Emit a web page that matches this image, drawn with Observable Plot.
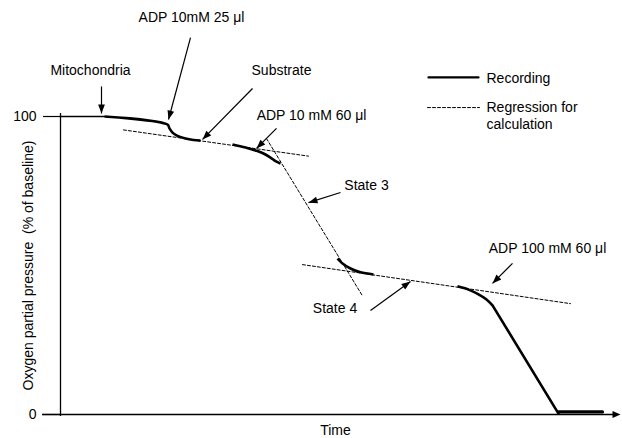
<!DOCTYPE html>
<html>
<head>
<meta charset="utf-8">
<script src="https://cdn.jsdelivr.net/npm/d3@7"></script>
<script src="https://cdn.jsdelivr.net/npm/@observablehq/plot@0.6"></script>
<style>
  html, body { margin: 0; padding: 0; background: #fff; }
</style>
</head>
<body>
<div id="chart"></div>
<script>
// ---------- Data (time in arbitrary units, O2 in % of baseline) ----------
const baselineT  = [0, 44];
const baselineO2 = [100, 100];

const rec1T  = [44, 107, 109, 112, 117, 125, 133, 140];
const rec1O2 = [100, 97.3, 96.0, 94.6, 93.5, 92.6, 92.1, 91.9];

const rec2T  = [172, 185, 195, 203, 210, 215, 220];
const rec2O2 = [90.6, 89.6, 88.6, 87.6, 86.2, 85.0, 84.2];

const rec3T  = [277, 282, 290, 300, 313];
const rec3O2 = [52.3, 50.7, 49.0, 47.7, 47.0];

const rec4T  = [397, 408, 418, 426, 432];
const rec4O2 = [43.0, 41.9, 40.3, 38.6, 36.6];

const rec5T  = [432, 498];
const rec5O2 = [36.6, 0.3];

const rec6T  = [498, 542];
const rec6O2 = [0.85, 0.85];

const reg1T = [63, 248],  reg1O2 = [95.5, 86.7];
const reg2T = [206, 302], reg2O2 = [92.6, 39.8];
const reg3T = [242, 510], reg3O2 = [50.3, 37.2];

const labels   = ["Mitochondria", "ADP 10mM 25 \u03bcl", "Substrate", "ADP 10 mM 60 \u03bcl", "State 3", "State 4", "ADP 100 mM 60 \u03bcl"];
const labelT   = [30, 131, 221, 251, 306, 274.5, 487];
const labelO2  = [115.4, 133.2, 115.4, 100.3, 76.8, 35.6, 55.7];
const arrowT1  = [41, 130, 192, 216, 280, 310, 452];
const arrowO21 = [110.1, 126.5, 109.4, 96.0, 74.5, 34.9, 50.7];
const arrowT2  = [41, 108, 142, 196, 248, 350, 432];
const arrowO22 = [101.0, 99.0, 92.3, 89.3, 71.1, 44.6, 44.0];

const legendLabels = ["Recording", "Regression for", "calculation"];
const yTicks = [0, 100];
const yLabel = "Oxygen partial pressure \u00a0(% of baseline)";
const xLabel = "Time";

// ---------- Layout ----------
const W = 622, H = 438, mL = 60, mR = 2, mT = 0, mB = 24;
const xDomain = [0, 560], yDomain = [0, 138.93];
const pxX = (W - mL - mR) / (xDomain[1] - xDomain[0]);
const pxY = (H - mT - mB) / (yDomain[1] - yDomain[0]);
const FONT = "'Liberation Sans', Arial, Helvetica, sans-serif";

// ---------- Build tables ----------
const recSegs = [[baselineT, baselineO2, "b"], [rec1T, rec1O2, "r1"], [rec2T, rec2O2, "r2"],
                 [rec3T, rec3O2, "r3"], [rec4T, rec4O2, "r4"]];
const recording = recSegs.flatMap(([ts, os, s]) => ts.map((t, i) => ({t, o2: os[i], seg: s})));
const thin = recording.filter(d => d.seg === "b");
const thick = recording.filter(d => d.seg !== "b");
const straight = rec5T.map((t, i) => ({t, o2: rec5O2[i]}));
const bottom = rec6T.map((t, i) => ({t, o2: rec6O2[i]}));
const regression = [[reg1T, reg1O2, "g1"], [reg2T, reg2O2, "g2"], [reg3T, reg3O2, "g3"]]
  .flatMap(([ts, os, s]) => ts.map((t, i) => ({t, o2: os[i], seg: s})));

const annotations = labels.map((text, i) => ({
  text, t: labelT[i], o2: labelO2[i],
  x1: arrowT1[i], y1: arrowO21[i], x2: arrowT2[i], y2: arrowO22[i]
}));

// arrowhead glyph: tip at origin, pointing up
const headSymbol = (L, w) => ({
  draw(ctx) { ctx.moveTo(0, 0); ctx.lineTo(-w, L); ctx.lineTo(w, L); ctx.closePath(); }
});
const angleOf = d => Math.atan2((d.x2 - d.x1) * pxX, (d.y2 - d.y1) * pxY) * 180 / Math.PI;

// legend rows positioned in data space
const legendT1 = 368, legendT2 = 418, legendTextT = 426;
const legendSolid = [{t: legendT1, o2: 113.1}, {t: legendT2, o2: 113.1}];
const legendDash = [{t: legendT1 - 1, o2: 103.0}, {t: legendT2 + 1, o2: 103.0}];
const legendText = [
  {text: legendLabels[0], t: legendTextT, o2: 112.8},
  {text: legendLabels[1], t: legendTextT, o2: 103.0},
  {text: legendLabels[2], t: legendTextT, o2: 97.3}
];

const chart = Plot.plot({
  width: W, height: H,
  marginLeft: mL, marginRight: mR, marginTop: mT, marginBottom: mB,
  style: {fontFamily: FONT, fontSize: "14px", background: "white", color: "black", overflow: "visible"},
  x: {domain: xDomain, axis: null},
  y: {domain: yDomain, axis: null},
  marks: [
    // axes
    Plot.axisY({ticks: yTicks, tickSize: 17, tickPadding: 7, label: null, fontSize: 14, strokeWidth: 1.2}),
    Plot.ruleX([0], {y1: -0.7, y2: 101, strokeWidth: 1.3}),
    Plot.ruleY([0], {x1: -18, x2: 555, strokeWidth: 1.3}),
    Plot.dot([{t: xDomain[1], o2: 0}], {x: "t", y: "o2", rotate: 90, symbol: headSymbol(8, 3.5), r: 5, fill: "black", stroke: "none"}),
    Plot.text([yLabel], {x: -32, y: 50, rotate: -90, fontSize: 14, fontFamily: FONT}),
    Plot.text([xLabel], {x: 275, y: 0, dy: 16, fontSize: 14, fontFamily: FONT}),

    // regression lines
    Plot.line(regression, {x: "t", y: "o2", z: "seg", stroke: "black", strokeWidth: 1, strokeDasharray: "3,2"}),

    // recording
    Plot.line(thin, {x: "t", y: "o2", stroke: "black", strokeWidth: 1.4}),
    Plot.line(thick, {x: "t", y: "o2", z: "seg", stroke: "black", strokeWidth: 2.6, curve: "catmull-rom", strokeLinecap: "butt"}),
    Plot.line(straight, {x: "t", y: "o2", stroke: "black", strokeWidth: 2.6}),
    Plot.line(bottom, {x: "t", y: "o2", stroke: "black", strokeWidth: 3.2}),

    // annotations
    Plot.link(annotations, {x1: "x1", y1: "y1", x2: "x2", y2: "y2", stroke: "black", strokeWidth: 1.2}),
    Plot.dot(annotations, {x: "x2", y: "y2", rotate: angleOf, symbol: headSymbol(9, 3.4), r: 5, fill: "black", stroke: "none"}),
    Plot.text(annotations, {x: "t", y: "o2", text: "text", fontSize: 14, fontFamily: FONT}),

    // legend
    Plot.line(legendSolid, {x: "t", y: "o2", stroke: "black", strokeWidth: 2.2}),
    Plot.line(legendDash, {x: "t", y: "o2", stroke: "black", strokeWidth: 1, strokeDasharray: "3,2"}),
    Plot.text(legendText, {x: "t", y: "o2", text: "text", textAnchor: "start", fontSize: 14, fontFamily: FONT})
  ]
});
document.getElementById("chart").appendChild(chart);
</script>
</body>
</html>
